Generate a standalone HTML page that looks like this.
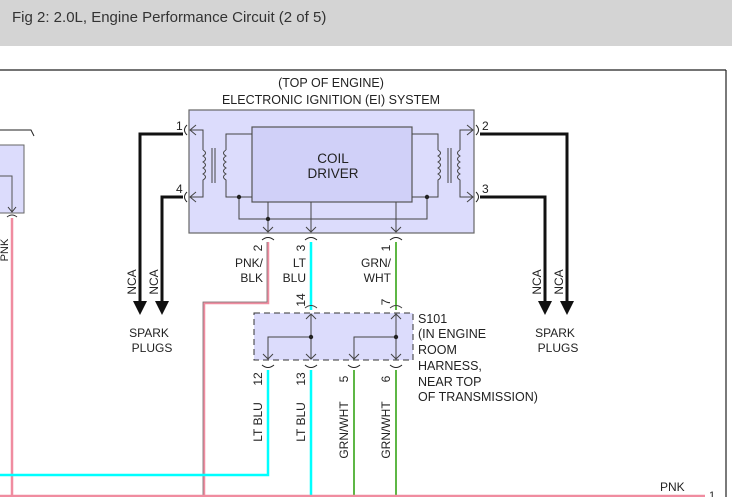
<!DOCTYPE html>
<html><head><meta charset="utf-8"><style>
html,body{margin:0;padding:0;background:#fff;}
svg{display:block;font-family:"Liberation Sans",Arial,sans-serif;}
</style></head><body>
<svg width="732" height="497" viewBox="0 0 732 497" xmlns="http://www.w3.org/2000/svg">
<rect x="0" y="0" width="732" height="46" fill="#d4d4d4"/>
<text x="12" y="22" font-size="15" fill="#333">Fig 2: 2.0L, Engine Performance Circuit (2 of 5)</text>
<line x1="0" y1="70" x2="726" y2="70" stroke="#222" stroke-width="1.2"/>
<line x1="726" y1="70" x2="726" y2="497" stroke="#222" stroke-width="1.2"/>

<g font-size="12.5" fill="#222">
<text x="331" y="87" text-anchor="middle">(TOP OF ENGINE)</text>
<text x="331" y="104" text-anchor="middle">ELECTRONIC IGNITION (EI) SYSTEM</text>
</g>

<path d="M0 130 H31 L34 136" fill="none" stroke="#222" stroke-width="1"/>
<rect x="-2" y="145" width="26" height="68" fill="#dcdcfc" stroke="#666"/>
<path d="M0 176 H12 V211" fill="none" stroke="#555" stroke-width="1"/>
<path d="M8 207 L12 212 L16 207" fill="none" stroke="#333"/>
<path d="M7 217 Q12 213 17 217" fill="none" stroke="#333"/>
<line x1="12" y1="218" x2="12" y2="497" stroke="#f08ca0" stroke-width="2.5"/>
<text transform="translate(8,250) rotate(-90)" font-size="11" fill="#222" text-anchor="middle">PNK</text>

<rect x="189" y="110" width="285" height="123" fill="#dcdcfc" stroke="#666" stroke-width="1.2"/>
<rect x="252" y="127" width="160" height="75" fill="#d0d0f8" stroke="#555" stroke-width="1.2"/>
<text x="333" y="163" font-size="13.5" text-anchor="middle" fill="#222">COIL</text>
<text x="333" y="178" font-size="13.5" text-anchor="middle" fill="#222">DRIVER</text>
<g fill="none" stroke="#444" stroke-width="1">
<path d="M190 130 H203 V150 M203 183 V197 H190"/>
<path d="M203 150 q5 3 0 6 q5 3 0 6 q5 3 0 6 q5 3 0 6 q5 3 0 6 V183"/>
<line x1="212" y1="148" x2="212" y2="183"/><line x1="215" y1="148" x2="215" y2="183"/>
<path d="M252 134 H226 V150 M226 183 V197 H252"/>
<path d="M226 150 q-5 3 0 6 q-5 3 0 6 q-5 3 0 6 q-5 3 0 6 q-5 3 0 6 V183"/>
<path d="M473 130 H460 V150 M460 183 V197 H473"/>
<path d="M460 150 q-5 3 0 6 q-5 3 0 6 q-5 3 0 6 q-5 3 0 6 q-5 3 0 6 V183"/>
<line x1="451" y1="148" x2="451" y2="183"/><line x1="448" y1="148" x2="448" y2="183"/>
<path d="M412 134 H438 V150 M438 183 V197 H412"/>
<path d="M438 150 q5 3 0 6 q5 3 0 6 q5 3 0 6 q5 3 0 6 q5 3 0 6 V183"/>
<path d="M239 197 V219 H427 V197"/>
<path d="M268 202 V232 M311 202 V232 M396 202 V232"/>
<path d="M196 125 L190 130 L196 135 M196 192 L190 197 L196 202"/>
<path d="M467 125 L473 130 L467 135 M467 192 L473 197 L467 202"/>
<path d="M263 227 L268 232 L273 227 M306 227 L311 232 L316 227 M391 227 L396 232 L401 227"/>
</g>
<circle cx="239" cy="197" r="2.2" fill="#222"/><circle cx="427" cy="197" r="2.2" fill="#222"/><circle cx="268" cy="219" r="2.2" fill="#222"/>
<g fill="none" stroke="#222" stroke-width="1">
<path d="M187 125 Q182 130 187 135 M187 192 Q182 197 187 202"/>
<path d="M476 125 Q481 130 476 135 M476 192 Q481 197 476 202"/>
<path d="M262 240 Q268 235 274 240 M305 240 Q311 235 317 240 M390 240 Q396 235 402 240"/>
</g>
<g font-size="12" fill="#222">
<text x="176" y="130">1</text><text x="176" y="193">4</text>
<text x="482" y="130">2</text><text x="482" y="193">3</text>
</g>
<g fill="none" stroke="#111" stroke-width="3">
<path d="M183 134 H140 V302"/>
<path d="M183 197 H162 V302"/>
<path d="M480 134 H567 V302"/>
<path d="M480 197 H545 V302"/>
</g>
<g fill="#111">
<path d="M133 301 H147 L140 315 Z"/><path d="M155 301 H169 L162 315 Z"/>
<path d="M538 301 H552 L545 315 Z"/><path d="M560 301 H574 L567 315 Z"/>
</g>
<g font-size="12" fill="#222">
<text transform="translate(136,282) rotate(-90)" text-anchor="middle">NCA</text>
<text transform="translate(158,282) rotate(-90)" text-anchor="middle">NCA</text>
<text transform="translate(541,282) rotate(-90)" text-anchor="middle">NCA</text>
<text transform="translate(563,282) rotate(-90)" text-anchor="middle">NCA</text>
<text x="149" y="337" text-anchor="middle">SPARK</text><text x="152" y="352" text-anchor="middle">PLUGS</text>
<text x="555" y="337" text-anchor="middle">SPARK</text><text x="558" y="352" text-anchor="middle">PLUGS</text>
</g>

<path d="M268 242 V303 H204 V497" fill="none" stroke="#f08ca0" stroke-width="2.5"/>
<path d="M267 242 V302 H203 V497" fill="none" stroke="#777" stroke-width="0.8"/>
<line x1="311" y1="242" x2="311" y2="310" stroke="#00ffff" stroke-width="2.5"/>
<line x1="396" y1="242" x2="396" y2="310" stroke="#4caf30" stroke-width="1.8"/>
<g font-size="12" fill="#222">
<text transform="translate(262,248) rotate(-90)" text-anchor="middle">2</text>
<text transform="translate(305,248) rotate(-90)" text-anchor="middle">3</text>
<text transform="translate(390,248) rotate(-90)" text-anchor="middle">1</text>
<text x="263" y="267" text-anchor="end">PNK/</text><text x="263" y="282" text-anchor="end">BLK</text>
<text x="306" y="267" text-anchor="end">LT</text><text x="306" y="282" text-anchor="end">BLU</text>
<text x="391" y="267" text-anchor="end">GRN/</text><text x="391" y="282" text-anchor="end">WHT</text>
<text transform="translate(305,300) rotate(-90)" text-anchor="middle">14</text>
<text transform="translate(390,302) rotate(-90)" text-anchor="middle">7</text>
</g>

<rect x="254" y="313" width="159" height="47" fill="#dcdcfc" stroke="#333" stroke-width="1" stroke-dasharray="6,4"/>
<g fill="none" stroke="#444" stroke-width="1">
<path d="M311 314 V359 M396 314 V359"/>
<path d="M311 337 H268 V359 M396 337 H354 V359"/>
<path d="M306 319 L311 314 L316 319 M391 319 L396 314 L401 319"/>
<path d="M263 354 L268 359 L273 354 M306 354 L311 359 L316 354 M349 354 L354 359 L359 354 M391 354 L396 359 L401 354"/>
<path d="M305 308 Q311 303 317 308 M390 308 Q396 303 402 308"/>
<path d="M262 365 Q268 370 274 365 M305 365 Q311 370 317 365 M348 365 Q354 370 360 365 M390 365 Q396 370 402 365" stroke="#222"/>
</g>
<circle cx="311" cy="337" r="2.2" fill="#222"/><circle cx="396" cy="337" r="2.2" fill="#222"/>
<g font-size="12.5" fill="#222">
<text x="418" y="323">S101</text>
<text x="418" y="338">(IN ENGINE</text>
<text x="418" y="354">ROOM</text>
<text x="418" y="370">HARNESS,</text>
<text x="418" y="386">NEAR TOP</text>
<text x="418" y="401">OF TRANSMISSION)</text>
</g>
<g font-size="12" fill="#222">
<text transform="translate(262,379) rotate(-90)" text-anchor="middle">12</text>
<text transform="translate(305,379) rotate(-90)" text-anchor="middle">13</text>
<text transform="translate(348,379) rotate(-90)" text-anchor="middle">5</text>
<text transform="translate(390,379) rotate(-90)" text-anchor="middle">6</text>
<text transform="translate(262,422) rotate(-90)" text-anchor="middle">LT BLU</text>
<text transform="translate(305,422) rotate(-90)" text-anchor="middle">LT BLU</text>
<text transform="translate(348,430) rotate(-90)" text-anchor="middle">GRN/WHT</text>
<text transform="translate(390,430) rotate(-90)" text-anchor="middle">GRN/WHT</text>
</g>
<path d="M268 370 V475 H0" fill="none" stroke="#00ffff" stroke-width="2.5"/>
<line x1="311" y1="370" x2="311" y2="497" stroke="#00ffff" stroke-width="2.5"/>
<line x1="354" y1="370" x2="354" y2="497" stroke="#4caf30" stroke-width="1.8"/>
<line x1="396" y1="370" x2="396" y2="497" stroke="#4caf30" stroke-width="1.8"/>
<line x1="0" y1="496" x2="705" y2="496" stroke="#f08ca0" stroke-width="2.5"/>
<text x="660" y="491" font-size="12" fill="#222">PNK</text>
<text x="709" y="499" font-size="11" fill="#222">1</text>
</svg>
</body></html>
